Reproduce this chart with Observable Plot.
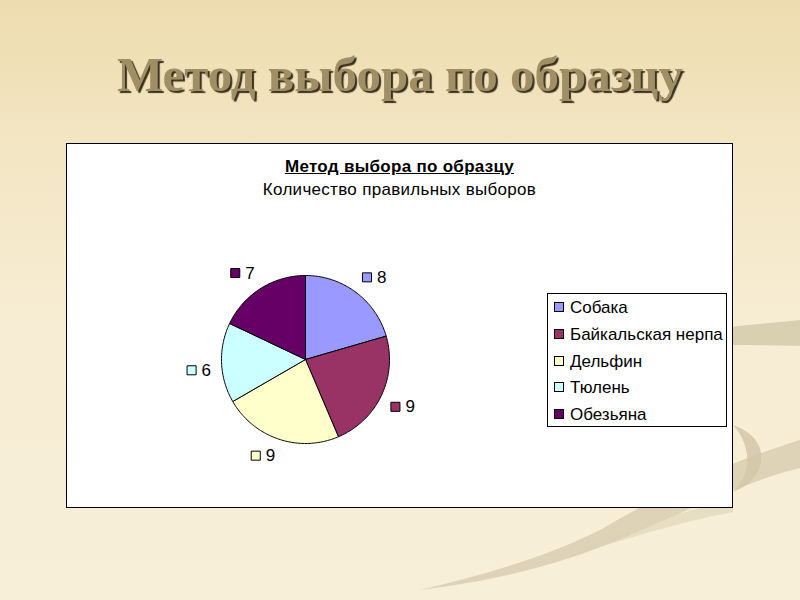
<!DOCTYPE html>
<html>
<head>
<meta charset="utf-8">
<script src="https://cdn.jsdelivr.net/npm/d3@7"></script>
<script src="https://cdn.jsdelivr.net/npm/@observablehq/plot@0.6"></script>
<style>
  html, body { margin:0; padding:0; }
  body {
    width:800px; height:600px; position:relative; overflow:hidden;
    background: linear-gradient(180deg, #EEDCAF 0%, #F3E6C4 25%, #F7EDD4 55%, #F8EFD9 100%);
    font-family: "Liberation Sans", Arial, sans-serif;
  }
  #deco { position:absolute; left:0; top:0; }
  #slideTitle {
    position:absolute; left:0; width:800px; top:46px; text-align:center;
    font-family: "Liberation Serif", "Times New Roman", serif; font-weight:bold;
    font-size:49px; color:#A08F64;
    text-shadow: 2px 2px 1px #3B3120;
  }
  #box {
    position:absolute; left:66px; top:143px; width:665px; height:363px;
    background:#fff; border:1px solid #000;
  }
  #chartTitle {
    position:absolute; left:0; width:100%; top:11px; text-align:center;
    font-size:17px; letter-spacing:0.3px; line-height:23px; color:#000;
  }
  #chartTitle .t { font-weight:bold; text-decoration:underline; }
  #pie { position:absolute; left:108px; top:85px; }
  #legend {
    position:absolute; left:480px; top:149px; width:178px; height:132px;
    border:1px solid #000; background:#fff;
  }
  .li { position:absolute; left:6px; font-size:17px; letter-spacing:0; line-height:18px; color:#000; white-space:nowrap; }
  .sw { display:inline-block; width:8px; height:8px; border:1px solid #000; margin-right:6px; vertical-align:1px; }
</style>
</head>
<body>
<svg id="deco" width="800" height="600">
  <path d="M800,320 C700,330 620,338 520,352 C640,345 720,344 800,346 Z" fill="#CFC4A6" opacity="0.75"/>
  <path d="M733,425 C772,438 770,478 733,492 C752,474 752,446 733,425 Z" fill="#CFC4A6" opacity="0.8"/>
  <path d="M800,440 C720,465 660,495 600,530 C540,560 480,575 420,590 C500,580 560,565 630,535 C700,505 750,480 800,468 Z" fill="#D3C8AA" opacity="0.7"/>
  <path d="M733,500 C680,512 620,530 560,560 C620,540 680,522 733,512 Z" fill="#DCD2B6" opacity="0.6"/>
</svg>
<div id="slideTitle">Метод выбора по образцу</div>
<div id="box">
  <div id="chartTitle"><span class="t">Метод выбора по образцу</span><br>Количество правильных выборов</div>
  <div id="pie"></div>
  <div id="legend"></div>
</div>
<script>
const categories = ["Собака", "Байкальская нерпа", "Дельфин", "Тюлень", "Обезьяна"];
const values = [8, 9, 9, 6, 7];
const colors = ["#9999FF", "#993366", "#FFFFCC", "#CCFFFF", "#660066"];

const slices = d3.pie().sort(null).value(d => d.value)(
  categories.map((c, i) => ({category: c, value: values[i]}))
);

// polygon points for each slice (unit radius), angle clockwise from 12 o'clock
const pts = [];
slices.forEach(s => {
  const c = s.data.category;
  pts.push({category: c, x: 0, y: 0});
  const n = Math.max(2, Math.ceil((s.endAngle - s.startAngle) / (Math.PI / 180)));
  for (let k = 0; k <= n; k++) {
    const a = s.startAngle + (s.endAngle - s.startAngle) * k / n;
    pts.push({category: c, x: Math.sin(a), y: Math.cos(a)});
  }
  pts.push({category: c, x: 0, y: 0});
});

const R = 84, S = 260, half = (S / 2) / R;
// outside-end labels: nearest corner of the label box sits on a circle just outside the pie
const LW = 25, LH = 14, LR = 94;
const labels = slices.map(s => {
  const a = (s.startAngle + s.endAngle) / 2;
  const cx = LR * Math.sin(a), cy = -LR * Math.cos(a); // px, y down
  const left = Math.sin(a) >= 0 ? cx : cx - LW;
  const top = cy >= 0 ? cy : cy - LH;
  const yc = top + LH / 2;
  return {category: s.data.category, value: s.data.value,
          sx: (left + 5) / R, tx: (left + 15) / R, y: -yc / R};
});

const plot = Plot.plot({
  width: S, height: S, margin: 0,
  x: {domain: [-half, half], axis: null},
  y: {domain: [-half, half], axis: null},
  color: {domain: categories, range: colors},
  style: {background: "transparent", fontFamily: "'Liberation Sans', Arial, sans-serif"},
  marks: [
    Plot.line(pts, {x: "x", y: "y", z: "category", fill: "category", stroke: "#000", strokeWidth: 1, curve: "linear"}),
    Plot.dot(labels, {x: "sx", y: "y", symbol: "square", r: 5.1, fill: "category", stroke: "#000", strokeWidth: 1}),
    Plot.text(labels, {x: "tx", y: "y", text: d => String(d.value), textAnchor: "start", fontSize: 17, fill: "#000"})
  ]
});
document.getElementById("pie").appendChild(plot);

const legend = document.getElementById("legend");
categories.forEach((c, i) => {
  const el = document.createElement("div");
  el.className = "li";
  el.style.top = (5 + i * 26.8) + "px";
  el.innerHTML = `<span class="sw" style="background:${colors[i]}"></span>${c}`;
  legend.appendChild(el);
});
</script>
</body>
</html>
